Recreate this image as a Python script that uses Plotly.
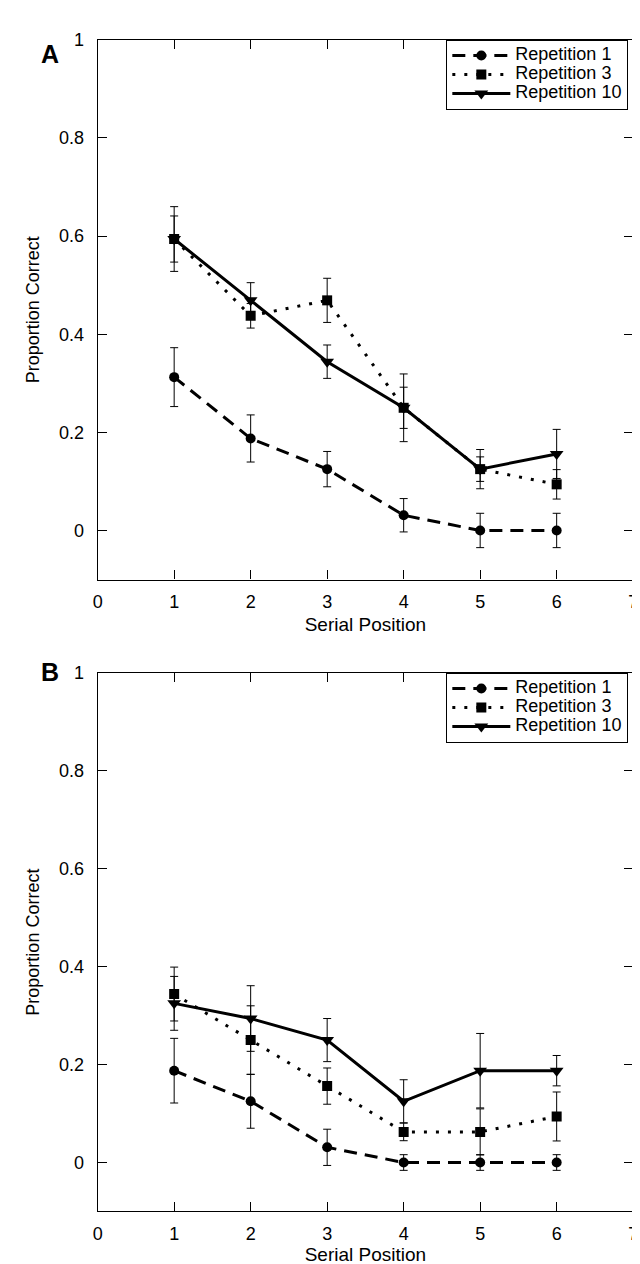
import plotly.graph_objects as go

# ---------------- data ----------------
positions = [1, 2, 3, 4, 5, 6]
series_names = ["Repetition 1", "Repetition 3", "Repetition 10"]

# Panel A
a_rep1 = [0.3125, 0.1875, 0.125, 0.031, 0.0, 0.0]
a_rep1_err = [0.06, 0.048, 0.036, 0.034, 0.035, 0.035]
a_rep3 = [0.594, 0.4375, 0.469, 0.25, 0.125, 0.094]
a_rep3_err = [0.047, 0.025, 0.045, 0.042, 0.025, 0.03]
a_rep10 = [0.594, 0.469, 0.344, 0.25, 0.125, 0.156]
a_rep10_err = [0.066, 0.036, 0.034, 0.069, 0.04, 0.05]

# Panel B
b_rep1 = [0.1875, 0.125, 0.031, 0.0, 0.0, 0.0]
b_rep1_err = [0.066, 0.055, 0.037, 0.016, 0.016, 0.016]
b_rep3 = [0.344, 0.25, 0.156, 0.0625, 0.0625, 0.094]
b_rep3_err = [0.055, 0.07, 0.037, 0.018, 0.047, 0.05]
b_rep10 = [0.325, 0.294, 0.25, 0.125, 0.1875, 0.1875]
b_rep10_err = [0.055, 0.067, 0.044, 0.044, 0.076, 0.031]

x_ticks = [0, 1, 2, 3, 4, 5, 6, 7]
y_ticks = [0, 0.2, 0.4, 0.6, 0.8, 1]
y_tick_text = ["0", "0.2", "0.4", "0.6", "0.8", "1"]

# ---------------- styling ----------------
W, H = 640, 1264
FONT = "Liberation Sans, Arial, Helvetica, sans-serif"
styles = [
    dict(dash="13px,8px", symbol="circle", size=10),
    dict(dash="3px,9px", symbol="square", size=10),
    dict(dash="solid", symbol="triangle-down", size=12),
]

fig = go.Figure()

panels = [
    ("x", "y", "legend", [(a_rep1, a_rep1_err), (a_rep3, a_rep3_err), (a_rep10, a_rep10_err)]),
    ("x2", "y2", "legend2", [(b_rep1, b_rep1_err), (b_rep3, b_rep3_err), (b_rep10, b_rep10_err)]),
]

for xa, ya, leg, data in panels:
    for name, (vals, errs), st in zip(series_names, data, styles):
        fig.add_trace(go.Scatter(
            x=positions, y=vals,
            name='<span style="font-size:18px">' + name + '</span>',
            xaxis=xa, yaxis=ya, legend=leg,
            mode="lines+markers",
            line=dict(color="black", width=3, dash=st["dash"]),
            marker=dict(color="black", symbol=st["symbol"], size=st["size"]),
            error_y=dict(type="data", array=errs, visible=True, color="black",
                         thickness=1, width=4),
        ))

def px_x(p):
    return p / W

def px_y(p):
    return 1 - p / H

x_dom = [px_x(86), px_x(630)]
axis_common = dict(
    showline=True, linecolor="black", linewidth=1.2, mirror="ticks",
    ticks="inside", ticklen=9, tickwidth=1, tickcolor="black",
    showgrid=False, zeroline=False,
    tickfont=dict(family=FONT, size=18, color="black"),
)

xtitle_a = dict(text="Serial Position", font=dict(family=FONT, size=19), standoff=6)
xtitle_b = dict(text="Serial Position", font=dict(family=FONT, size=19), standoff=1)
ytitle = dict(text="Proportion Correct", font=dict(family=FONT, size=18), standoff=14)

fig.update_layout(
    width=W, height=H,
    margin=dict(l=0, r=0, t=0, b=0),
    paper_bgcolor="white", plot_bgcolor="white",
    font=dict(family=FONT, color="black"),
    showlegend=True,
    xaxis=dict(domain=x_dom, anchor="y", range=[0, 7], tickvals=x_ticks,
               ticklabelstandoff=6, title=xtitle_a, **axis_common),
    yaxis=dict(domain=[px_y(566), px_y(22)], anchor="x", range=[-0.1, 1],
               tickvals=y_ticks, ticktext=y_tick_text, ticklabelstandoff=9,
               title=ytitle, **axis_common),
    xaxis2=dict(domain=x_dom, anchor="y2", range=[0, 7], tickvals=x_ticks,
                ticklabelstandoff=6, title=xtitle_b, **axis_common),
    yaxis2=dict(domain=[px_y(1203), px_y(660)], anchor="x2", range=[-0.1, 1],
                tickvals=y_ticks, ticktext=y_tick_text, ticklabelstandoff=9,
                title=ytitle, **axis_common),
    legend=dict(x=px_x(440), y=px_y(22), xanchor="left", yanchor="top",
                bordercolor="black", borderwidth=1.2, bgcolor="white",
                font=dict(family=FONT, size=11), itemwidth=58,
                tracegroupgap=0),
    legend2=dict(x=px_x(440), y=px_y(660), xanchor="left", yanchor="top",
                 bordercolor="black", borderwidth=1.2, bgcolor="white",
                 font=dict(family=FONT, size=11), itemwidth=58,
                 tracegroupgap=0),
    annotations=[
        dict(text="<b>A</b>", x=px_x(26), y=px_y(20), xref="paper", yref="paper",
             showarrow=False, font=dict(family=FONT, size=25)),
        dict(text="<b>B</b>", x=px_x(26), y=px_y(659), xref="paper", yref="paper",
             showarrow=False, font=dict(family=FONT, size=25)),
    ],
)

fig.write_html("out.html")
